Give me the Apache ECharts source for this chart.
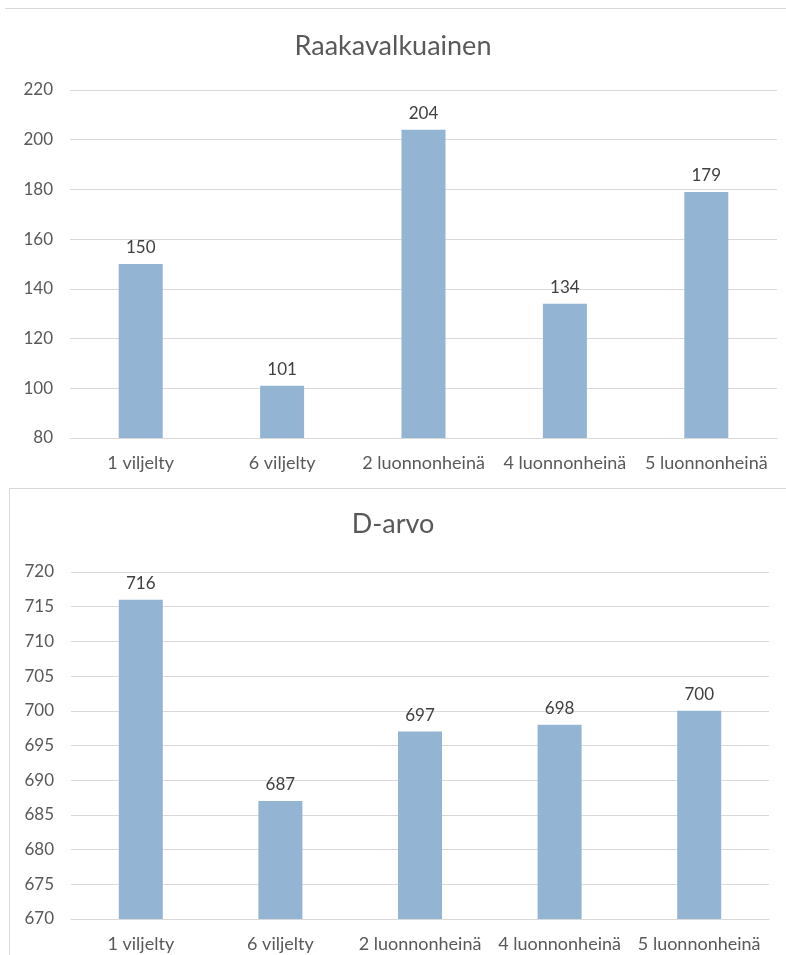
<!DOCTYPE html>
<html>
<head>
<meta charset="utf-8">
<script src="https://cdn.jsdelivr.net/npm/echarts@6/dist/echarts.min.js"></script>
<style>
  html, body { margin: 0; padding: 0; background: #fff; }
  #chart { width: 786px; height: 955px; }
</style>
</head>
<body>
<div id="chart"></div>
<script>
// Samples: cultivated (viljelty) and natural grass (luonnonheinä)
const categories = ['1 viljelty', '6 viljelty', '2 luonnonheinä', '4 luonnonheinä', '5 luonnonheinä'];
// Raakavalkuainen (crude protein)
const proteinValues = [150, 101, 204, 134, 179];
// D-arvo (digestibility value)
const dValues = [716, 687, 697, 698, 700];

const FONT = 'Lato, "Open Sans", sans-serif';
const TEXT = '#595959';
const GRIDLINE = '#d9d9d9';
const BAR = '#94b4d4';

function xAxis(gridIndex) {
  return {
    type: 'category', gridIndex, data: categories,
    axisLine: { show: true, lineStyle: { color: GRIDLINE, width: 1 } },
    axisTick: { show: false },
    axisLabel: { color: TEXT, fontSize: 18, fontFamily: FONT, margin: 16, interval: 0 }
  };
}
function yAxis(gridIndex, min, max, interval) {
  return {
    type: 'value', gridIndex, min, max, interval,
    axisLine: { show: false }, axisTick: { show: false },
    splitLine: { lineStyle: { color: GRIDLINE, width: 1 } },
    axisLabel: { color: TEXT, fontSize: 17, fontFamily: FONT, margin: 17 }
  };
}
function barSeries(idx, values) {
  return {
    type: 'bar', xAxisIndex: idx, yAxisIndex: idx, data: values,
    barWidth: 44, itemStyle: { color: BAR },
    label: { show: true, position: 'top', distance: 8, color: '#404040', fontSize: 17, fontFamily: FONT }
  };
}

const chart = echarts.init(document.getElementById('chart'), null, { renderer: 'canvas' });
chart.setOption({
  animation: false,
  backgroundColor: '#fff',
  title: [
    { text: 'Raakavalkuainen', left: 'center', top: 28,
      textStyle: { color: TEXT, fontSize: 27, fontWeight: 'normal', fontFamily: FONT } },
    { text: 'D-arvo', left: 'center', top: 506,
      textStyle: { color: TEXT, fontSize: 27, fontWeight: 'normal', fontFamily: FONT } }
  ],
  graphic: [
    { type: 'line', shape: { x1: 5, y1: 8.5, x2: 786, y2: 8.5 }, style: { stroke: '#d9d9d9', lineWidth: 1 } },
    { type: 'line', shape: { x1: 9, y1: 488.5, x2: 786, y2: 488.5 }, style: { stroke: '#d9d9d9', lineWidth: 1 } },
    { type: 'line', shape: { x1: 9.5, y1: 488, x2: 9.5, y2: 955 }, style: { stroke: '#d9d9d9', lineWidth: 1 } }
  ],
  grid: [
    { left: 70, right: 9, top: 90, height: 348 },
    { left: 71, right: 17, top: 572, height: 347 }
  ],
  xAxis: [xAxis(0), xAxis(1)],
  yAxis: [yAxis(0, 80, 220, 20), yAxis(1, 670, 720, 5)],
  series: [barSeries(0, proteinValues), barSeries(1, dValues)]
});
</script>
</body>
</html>
